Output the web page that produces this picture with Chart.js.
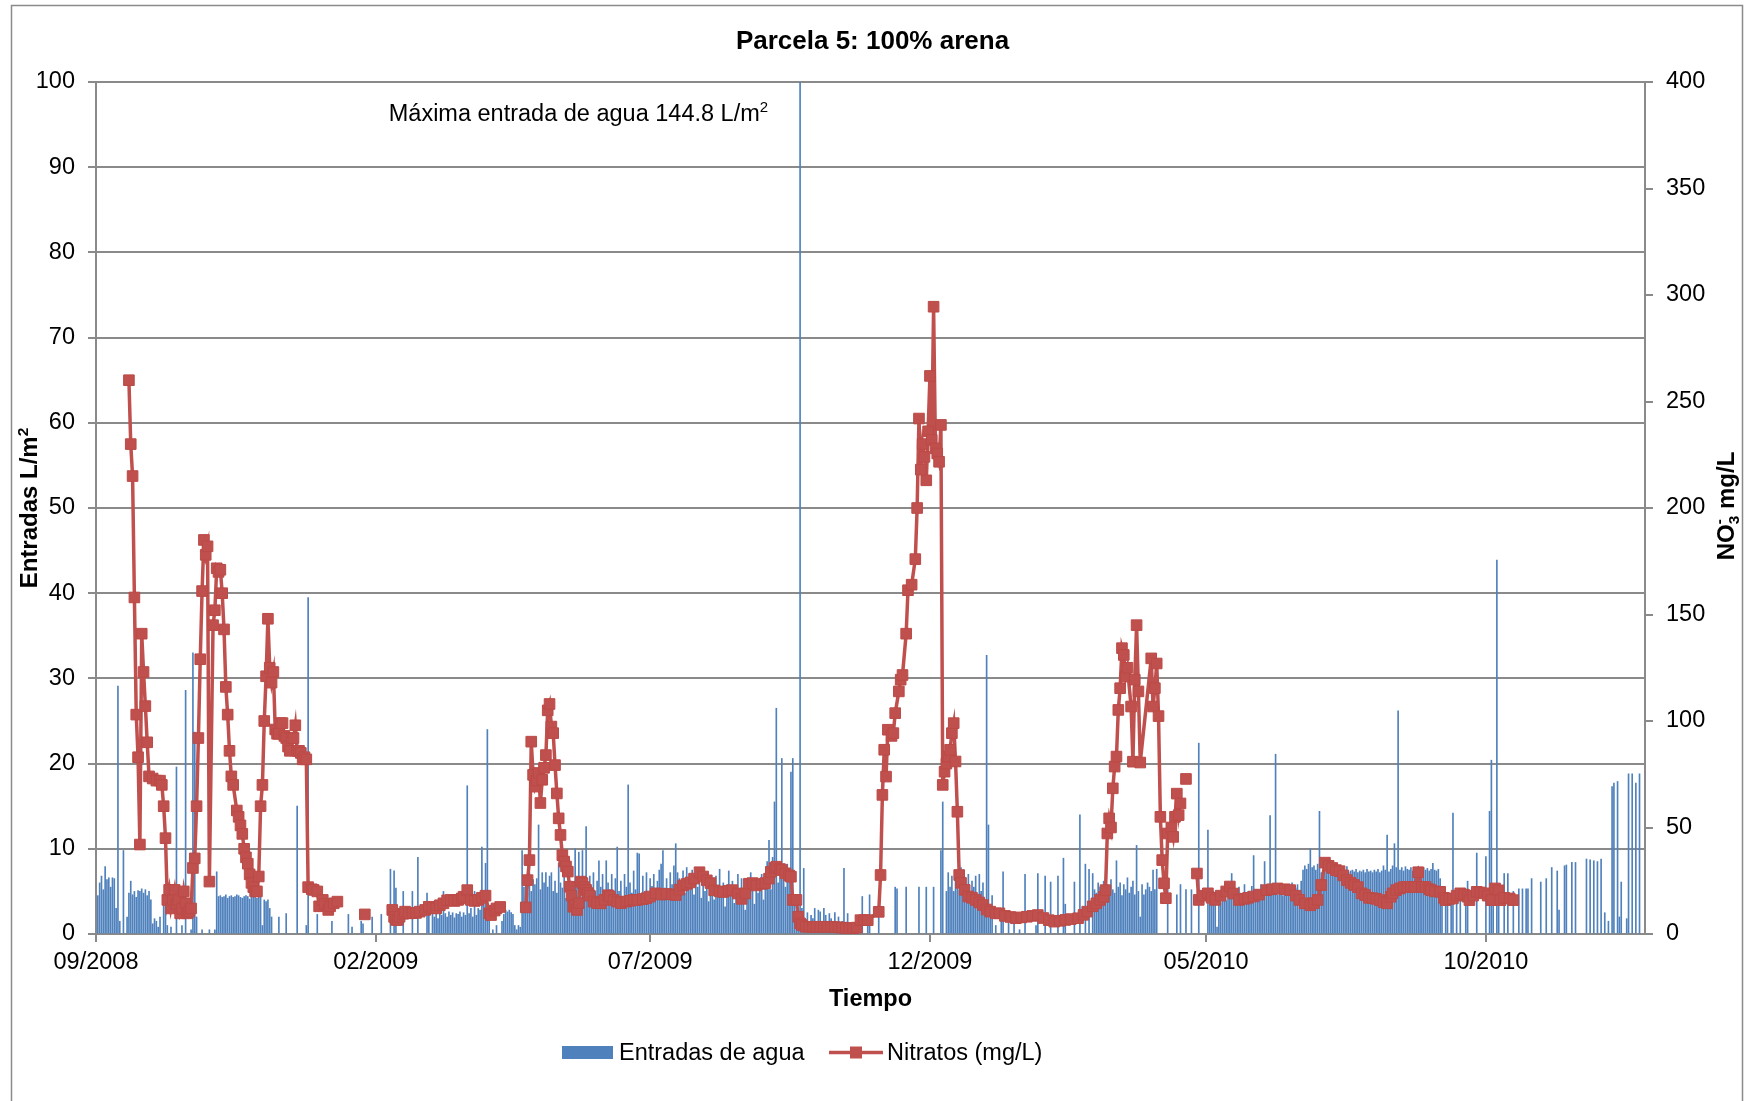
<!DOCTYPE html>
<html>
<head>
<meta charset="utf-8">
<title>Parcela 5: 100% arena</title>
<script src="https://cdn.jsdelivr.net/npm/chart.js@4.4.0/dist/chart.umd.min.js"></script>
<style>
  html, body { margin: 0; padding: 0; background: #fff; }
</style>
</head>
<body>
<canvas id="chart" width="1745" height="1101"></canvas>
<script>
// days are counted from 01/09/2008
const xTickDays = [0, 153, 303, 456, 607, 760];
const xTickLabels = ['09/2008', '02/2009', '07/2009', '12/2009', '05/2010', '10/2010'];

// daily water inputs (L/m2), one value per day from day 0
const barValues = [
  0, 4.5, 6.0, 6.8, 5.2, 7.9, 6.4, 6.6, 5.5, 6.6,
  6.5, 3.0, 29.1, 1.5, 0, 9.8, 0, 2.0, 4.8, 6.2,
  4.6, 5.0, 4.3, 5.1, 5.0, 5.3, 4.8, 5.2, 4.5, 5.0,
  4.0, 1.2, 1.8, 1.5, 0.8, 2.0, 0, 3.5, 4.2, 1.0,
  0, 0.8, 0, 0, 19.6, 0, 0, 1.0, 0, 28.6,
  0, 0, 0.5, 33.0, 23.7, 2.0, 0, 0, 0.5, 0,
  0, 0, 0.5, 0, 0, 0.5, 7.3, 4.4, 4.5, 4.3,
  4.4, 4.6, 4.2, 4.4, 4.5, 4.3, 4.4, 4.6, 4.5, 4.3,
  4.2, 4.4, 4.5, 4.4, 4.1, 4.5, 4.3, 4.4, 4.2, 4.3,
  4.5, 1.0, 4.0, 3.8, 4.0, 3.0, 2.0, 0, 0, 0,
  2.0, 0, 0, 0, 2.4, 0, 0, 0, 0, 0,
  15.0, 0, 0, 0, 0, 1.0, 39.5, 0, 0, 0,
  0, 2.3, 0, 0, 0, 0, 0, 0, 0, 1.5,
  0, 0, 0, 0, 0, 0, 0, 0, 2.3, 0,
  0.8, 0, 0, 0, 0, 1.5, 1.2, 0, 0, 0,
  0, 2.0, 0, 0, 0, 0, 2.3, 0, 0, 0,
  0, 7.6, 0, 7.4, 5.4, 0, 0, 0, 5.0, 0,
  0, 0, 0, 5.0, 0, 0, 9.0, 0, 0, 0,
  0, 4.8, 2.2, 0, 2.5, 2.0, 2.3, 1.8, 2.5, 2.2,
  5.0, 2.4, 2.0, 2.6, 2.2, 2.5, 1.9, 2.4, 2.3, 2.6,
  2.0, 2.5, 2.2, 17.4, 2.4, 3.0, 2.0, 5.0, 2.2, 3.0,
  2.8, 10.2, 4.0, 8.3, 24.0, 2.0, 0, 0.5, 0, 1.0,
  0, 0, 1.5, 2.3, 2.8, 2.6, 2.8, 2.5, 2.3, 1.0,
  0.5, 1.0, 0.8, 9.8, 5.5, 6.2, 4.8, 7.2, 5.0, 6.4,
  5.8, 6.5, 12.8, 5.2, 7.2, 6.0, 7.2, 5.5, 6.8, 7.2,
  5.0, 6.2, 4.8, 8.3, 6.0, 5.4, 6.8, 4.2, 5.8, 3.5,
  6.2, 4.0, 10.0, 6.5, 9.6, 5.5, 9.8, 6.2, 12.6, 5.0,
  6.8, 4.5, 7.2, 5.0, 6.2, 8.6, 5.5, 7.0, 4.8, 8.6,
  6.0, 5.2, 7.0, 4.5, 6.5, 10.2, 5.0, 6.2, 4.2, 7.0,
  5.5, 17.5, 6.0, 4.8, 7.4, 5.2, 9.5, 9.4, 4.5, 6.8,
  5.0, 7.2, 4.2, 6.5, 5.6, 7.0, 4.8, 6.2, 7.5, 8.2,
  9.8, 5.4, 6.5, 4.6, 7.2, 5.8, 8.0, 10.6, 7.2, 6.5,
  5.0, 7.4, 4.8, 7.8, 6.0, 5.2, 7.5, 4.6, 6.8, 5.5,
  7.2, 4.2, 6.4, 5.0, 7.0, 3.8, 6.2, 5.5, 4.0, 6.8,
  5.2, 7.6, 4.5, 6.0, 3.2, 5.8, 7.4, 4.8, 6.2, 3.6,
  5.5, 7.0, 4.2, 6.5, 5.0, 2.8, 6.0, 4.5, 7.2, 5.2,
  3.5, 6.2, 4.8, 5.5, 7.0, 4.0, 6.5, 8.5, 11.0, 5.2,
  9.0, 15.5, 26.5, 6.0, 8.0, 20.6, 7.0, 5.5, 8.2, 6.5,
  19.0, 20.6, 4.0, 1.5, 2.0, 144.8, 3.0, 7.7, 1.5, 2.5,
  1.0, 2.2, 1.8, 3.0, 1.2, 2.8, 2.6, 1.5, 3.0, 2.2,
  1.0, 2.4, 1.8, 0.8, 2.5, 1.2, 2.0, 0.5, 1.5, 7.7,
  1.0, 2.4, 0.6, 1.2, 0, 0.8, 1.0, 0, 0.5, 4.4,
  0, 0, 1.0, 4.6, 0, 0, 0, 0, 3.0, 0,
  0, 0, 0, 0, 0, 0, 0, 5.5, 5.3, 0,
  0, 0, 0, 5.5, 0, 0, 0, 0, 0, 0,
  5.5, 0, 0, 0, 5.5, 0, 0, 0, 5.5, 0,
  0, 0, 9.8, 15.5, 0, 5.0, 7.2, 5.5, 6.8, 5.0,
  7.5, 6.0, 5.2, 7.8, 5.5, 6.4, 5.0, 7.0, 4.5, 6.2,
  5.5, 6.8, 4.2, 7.0, 5.0, 6.0, 3.5, 32.7, 12.8, 2.0,
  4.5, 0, 1.0, 0, 0, 3.0, 7.3, 0, 0, 2.0,
  0, 0, 1.5, 0, 0, 0.5, 0, 0, 7.0, 0,
  0, 0, 0, 0, 1.0, 7.1, 0, 0, 0, 6.8,
  0, 0, 6.1, 0, 0, 0, 6.8, 0, 0, 8.9,
  3.5, 0, 0, 0, 0, 6.1, 0, 0, 14.0, 0,
  0, 8.2, 0, 7.6, 0, 7.1, 5.2, 4.8, 6.0, 5.5,
  4.6, 6.2, 5.0, 5.8, 4.5, 6.4, 5.2, 4.8, 8.6, 5.5,
  6.0, 4.5, 5.8, 5.2, 6.6, 4.8, 5.5, 6.2, 4.6, 10.4,
  5.0, 2.0, 5.8, 4.6, 5.2, 6.0, 5.5, 5.0, 7.5, 5.2,
  7.6, 0, 0, 0, 0, 0, 6.1, 0, 0, 0,
  0, 4.6, 0, 5.8, 0, 0, 5.2, 0, 0, 5.2,
  0, 0, 0, 22.4, 0, 0, 0, 0, 12.2, 4.0,
  3.8, 5.0, 4.2, 0.8, 4.8, 3.7, 5.2, 4.5, 3.9, 5.3,
  4.2, 7.1, 4.6, 5.0, 4.0, 5.5, 4.8, 4.4, 5.8, 4.2,
  5.0, 4.5, 5.6, 9.2, 4.8, 5.2, 4.2, 5.8, 4.6, 8.5,
  5.4, 4.8, 13.9, 5.0, 5.6, 21.1, 4.6, 5.8, 5.2, 4.5,
  5.8, 5.0, 4.6, 5.5, 6.0, 4.8, 5.4, 5.8, 5.0, 6.2,
  7.5, 8.0, 7.6, 8.2, 10.0, 7.8, 8.0, 7.5, 8.2, 14.4,
  7.2, 7.5, 7.3, 7.6, 7.2, 7.4, 7.3, 7.6, 7.2, 7.5,
  7.4, 7.2, 7.6, 7.3, 7.9, 7.2, 7.4, 7.5, 7.3, 7.6,
  7.2, 7.4, 7.3, 7.5, 7.2, 7.6, 7.3, 7.4, 7.2, 7.5,
  7.3, 7.6, 7.2, 7.4, 8.0, 7.5, 11.6, 7.3, 7.6, 8.0,
  10.6, 7.8, 26.2, 7.5, 7.8, 7.4, 7.9, 7.6, 7.5, 7.8,
  7.4, 7.7, 7.5, 7.9, 7.6, 7.4, 7.8, 7.5, 7.7, 7.4,
  7.6, 8.3, 7.5, 7.4, 7.6, 6.5, 4.5, 0, 4.2, 4.9,
  0, 4.5, 14.2, 0, 4.6, 0, 4.8, 0, 0, 4.5,
  6.2, 0, 0, 0, 0, 9.5, 0, 0, 0, 0,
  9.1, 0, 14.4, 20.4, 3.5, 0, 43.9, 4.4, 0, 0,
  7.1, 0, 7.1, 0, 0, 5.0, 0, 0, 5.3, 0,
  5.3, 0, 5.3, 5.3, 0, 6.5, 0, 0, 0, 0,
  6.1, 0, 0, 6.5, 0, 0, 7.8, 0, 0, 7.4,
  2.8, 0, 0, 8.0, 8.1, 0, 0, 8.4, 0, 8.4,
  0, 0, 0, 0, 0, 8.8, 0, 8.7, 0, 8.6,
  0, 8.5, 0, 8.8, 0, 2.5, 0, 1.5, 0, 17.3,
  17.7, 0, 17.9, 2.0, 6.1, 0, 0, 1.8, 18.8, 0,
  18.8, 0, 17.7, 0, 18.8, 0, 0
];

// nitrate samples (mg/L); null = no sampling, the line is broken there
const nitrateDays = [
  18, 19, 20, 21, 22, 23, 24, 25, 26, 27, 28, 29, 31, 33, 35, 36, 37, 38, 39, 40,
  41, 42, 43, 44, 45, 46, 47, 48, 49, 50, 51, 52, 53, 54, 55, 56, 57, 58, 59, 60,
  61, 62, 64, 65, 66, 67, 68, 69, 70, 71, 72, 73, 74, 75, 77, 78, 79, 80, 81, 82,
  83, 84, 85, 86, 87, 88, 89, 90, 91, 92, 93, 94, 95, 96, 97, 98, 99, 100, 101, 102,
  103, 104, 105, 106, 107, 108, 109, 110, 111, 112, 113, 114, 115, 116, 118, 119, 121, 122, 124, 125,
  127, 128, 130, 132, 140, 147, 155,
  162, 163, 164, 165, 166, 168, 169, 171, 173, 175, 177, 180, 182, 184, 186, 188, 190, 192, 194, 196,
  198, 200, 201, 203, 205, 207, 209, 211, 213, 215, 216, 218, 219, 221, 227,
  235, 236, 237, 238, 239, 240, 241, 242, 243, 244, 245, 246, 247, 248, 249, 250, 251, 252, 253, 254,
  255, 256, 257, 258, 259, 260, 261, 262, 263, 264, 265, 266, 267, 268, 269, 270, 272, 274, 276, 278,
  280, 281, 283, 285, 287, 290, 292, 294, 296, 299, 301, 303, 306, 309, 312, 315, 317, 319, 321, 323,
  325, 327, 330, 332, 334, 336, 338, 341, 343, 346, 348, 351, 353, 355, 357, 359, 361, 364, 366, 368,
  369, 371, 372, 374, 375, 377, 379, 380, 381, 383, 384, 385, 386, 388, 390, 392, 394, 396, 398, 400,
  402, 404, 406, 408, 410, 412, 414, 416, 418, 420, 422, 428, 429, 430, 431, 432, 433, 435, 436, 437,
  439, 440, 441, 443, 444, 446, 448, 449, 450, 451, 452, 453, 454, 455, 456, 457, 458, 459, 460, 461,
  462, 463, 464, 465, 466, 467, 468, 469, 470, 471, 472, 473, 475, 477, 479, 481, 483, 485, 487, 489,
  492, 494, 497, 500, 503, 506, 509, 512, 515, 518, 521, 524, 527, 530, 533, 537, 540, 542, 545, 547,
  549, 551, 552, 553, 554, 555, 556, 557, 558, 559, 560, 561, 562, 563, 564, 566, 567, 568, 569, 570,
  571, 577, 578, 579, 580, 581, 582, 583, 584, 585, 586, 588, 589, 590, 591, 592, 593, 595, 596, 599,
  602, 603, 605, 608, 610, 612, 615, 618, 620, 622, 625, 628, 630, 633, 636, 640, 643, 646, 650, 653,
  656, 658, 661, 664, 666, 668, 670, 672, 674, 676, 678, 680, 682, 684, 686, 688, 690, 692, 694, 696,
  698, 700, 702, 704, 706, 708, 709, 711, 713, 715, 717, 719, 721, 723, 725, 727, 729, 730, 732, 735,
  737, 738, 740, 742, 744, 746, 748, 750, 751, 753, 755, 757, 759, 761, 763, 765, 767, 768, 770, 773,
  775
];
const nitrateValues = [
  260, 230, 215, 158, 103, 83, 42, 141, 123, 107, 90, 74, 73, 72, 72, 70, 60, 45, 16, 20.7,
  12, 16, 20.7, 14, 16, 9.7, 12, 20, 14.4, 9.7, 10.5, 12, 31, 35.5, 60, 92, 129, 161, 185, 178,
  182, 24.6, 145, 152, 171.7, 170, 171, 160, 143, 116, 103, 86, 74, 70, 58, 55, 51, 47, 40, 36,
  33, 28, 24, 22, 20, 20, 27, 60, 70, 100, 121, 148, 125, 118, 123, 96, 94, 94, 99, 99,
  93, 92, 88, 86, 92, 92, 98, 86, 86, 85, 82, 83, 82, 22, 21, 20.7, 20, 13, 16, 14,
  11.3, 13, 14.4, 15.2, null, 9.2, null,
  11.3, 8, 6.6, 6.6, 8.1, 9.5, 10.5, 9.7, 9.8, 9.9, 10.5, 11.3, 12.8, 12.2, 12, 13.5, 14.4, 15.8, 16, 15.5,
  16, 16.7, 17.5, 20.6, 16, 15.5, 16, 17, 18, 9.7, 8.9, 11, 12, 12.7, null,
  12.5, 25.3, 34.7, 90.3, 74.7, 69.2, 72, 75.6, 61.5, 72.4, 78, 84, 105, 108, 97.4, 94.3, 79.3, 66, 54.3, 46.5,
  37, 34, 31.7, 29.3, 22.2, 18, 12.8, 13.7, 11.3, 14.5, 24.6, 23.9, 22, 20.7, 19.2, 18, 15.2, 14.5, 14.4, 16,
  18.2, 17.6, 16, 15.2, 14.5, 15.2, 15.6, 16, 16, 16.4, 16.8, 17.6, 19.1, 18.5, 18.8, 18.6, 18.3, 20.8, 22.8, 23.5,
  24.2, 26, 29, 27, 25.2, 23.9, 20.5, 20, 19.7, 20.3, 20.6, 19, 16.5, 19, 23.6, 23.9, 22.8, 23.5, 23.9, 26,
  29.2, 31, 31.6, 30.5, 30, 28.5, 27.5, 26.9, 16, 16, 8.1, 5, 4.2, 3.4, 3.4, 3.3, 3.4, 3.4, 3.3, 3.4,
  3.4, 3.2, 3.1, 3, 2.8, 2.6, 2.7, 3, 6.5, 6.5, 6.5, 10.4, 27.7, 65.3, 86.5, 73.9, 95.9, 93, 94.3, 103.7,
  113.9, 119.4, 121.6, 141, 161.4, 164, 176, 200, 242, 218, 230, 224, 213, 236, 262, 232, 294.5, 228, 225.6, 221.7,
  239, 70, 76.2, 80, 83.3, 86.5, 94.3, 99, 81, 57.4, 27.7, 24, 20.7, 17.6, 17, 16, 14.8, 13.6, 11.5, 10.5,
  9.7, 9.7, 8.5, 8, 7.4, 7.8, 8.1, 8.5, 8.9, 7.5, 6.5, 5.8, 6.2, 6.6, 7, 7.4, 9, 10.5, 13, 14.4,
  16, 17.4, 20.6, 47.2, 54.3, 50, 68.4, 78.6, 83.3, 105.2, 115.4, 134.2, 131, 120.9, 125, 106.8, 80.9, 119.4, 145, 113.9,
  80.5, 129.4, 106.8, 115.4, 127, 102.3, 55, 34.7, 23.8, 16.8, 47.2, 50, 45.6, 55, 65.9, 55.8, 61.3, null, 72.8, null,
  28.4, 16, 18, 19.1, 17, 16, 18, 20, 22.3, 19, 16, 16.5, 17, 17.6, 18.5, 20.6, 21, 21.4, 21, 20.6,
  18, 16, 14.4, 13.5, 14.5, 16, 23, 33.5, 32, 31, 30, 29.5, 27.5, 25.3, 24, 23, 22, 19.1, 18.3, 17,
  16.8, 16.5, 15.9, 15, 14.4, 17.5, 19.1, 20.6, 21.4, 22, 22.1, 22.1, 22.1, 29, 22.1, 22.1, 21, 20.6, 20, 19.8,
  17, 15.9, 16.5, 16.7, 18, 19.1, 18.5, 17.5, 15.9, 18, 19.8, 19.5, 19.1, 18, 15.9, 21.4, 20.5, 15.9, 17, 16.7,
  15.9
];

const FONT = "'Liberation Sans', Arial, Helvetica, sans-serif";
const GRID = '#8a8a8a';
const BLUE = '#4F81BD';
const RED = '#C0504D';

Chart.defaults.font.family = FONT;
Chart.defaults.font.size = 23.5;
Chart.defaults.color = '#000';

// draws a run of text pieces (for super/subscripts), y is the baseline
function drawParts(ctx, parts, x, y, weight, align) {
  let total = 0;
  parts.forEach(function(p) {
    ctx.font = weight + ' ' + p.size + 'px ' + FONT;
    p.w = ctx.measureText(p.text).width;
    if (!p.stack) total += p.w;
  });
  let cx = align === 'center' ? x - total / 2 : (align === 'right' ? x - total : x);
  let last = cx;
  parts.forEach(function(p) {
    ctx.font = weight + ' ' + p.size + 'px ' + FONT;
    if (p.stack) {
      ctx.fillText(p.text, last, y + (p.dy || 0));
    } else {
      ctx.fillText(p.text, cx, y + (p.dy || 0));
      last = cx;
      cx += p.w;
    }
  });
}

const extras = {
  id: 'extras',
  afterDraw(chart) {
    const ctx = chart.ctx;
    const area = chart.chartArea;
    const xs = chart.scales.x;
    ctx.save();
    ctx.fillStyle = '#000';
    ctx.textAlign = 'left';
    ctx.textBaseline = 'alphabetic';

    // outer frame
    ctx.strokeStyle = GRID;
    ctx.lineWidth = 1.5;
    ctx.strokeRect(11.5, 5.5, 1731, 1200);

    // note for the clipped bar
    drawParts(ctx, [
      { text: 'Máxima entrada de agua 144.8 L/m', size: 23.5 },
      { text: '2', size: 15, dy: -9 }
    ], xs.getPixelForValue(385) - 32, area.top + 39, 'normal', 'right');

    // left axis title
    ctx.save();
    ctx.translate(28, (area.top + area.bottom) / 2);
    ctx.rotate(-Math.PI / 2);
    drawParts(ctx, [
      { text: 'Entradas L/m', size: 24 },
      { text: '2', size: 15.5, dy: -9 }
    ], 0, 8.5, 'bold', 'center');
    ctx.restore();

    // right axis title
    ctx.save();
    ctx.translate(1725, (area.top + area.bottom) / 2 - 2);
    ctx.rotate(-Math.PI / 2);
    drawParts(ctx, [
      { text: 'NO', size: 24 },
      { text: '3', size: 15.5, dy: 5 },
      { text: '-', size: 15.5, dy: -10, stack: true },
      { text: ' mg/L', size: 24 }
    ], 0, 8.5, 'bold', 'center');
    ctx.restore();

    // x axis title
    drawParts(ctx, [{ text: 'Tiempo', size: 23.5 }], (area.left + area.right) / 2, 1006, 'bold', 'center');

    // legend
    ctx.fillStyle = BLUE;
    ctx.fillRect(562, 1046, 51, 13);
    ctx.fillStyle = '#000';
    drawParts(ctx, [{ text: 'Entradas de agua', size: 23.5 }], 619, 1059.5, 'normal', 'left');
    ctx.strokeStyle = RED;
    ctx.lineWidth = 3.5;
    ctx.beginPath();
    ctx.moveTo(829, 1052.5);
    ctx.lineTo(883, 1052.5);
    ctx.stroke();
    ctx.fillStyle = RED;
    ctx.fillRect(850, 1046.5, 12, 12);
    ctx.fillStyle = '#000';
    drawParts(ctx, [{ text: 'Nitratos (mg/L)', size: 23.5 }], 887, 1059.5, 'normal', 'left');

    ctx.restore();
  }
};

const barData = [];
barValues.forEach(function(v, i) {
  if (v > 0) barData.push({ x: i, y: v });
});
const lineData = nitrateDays.map(function(d, i) {
  return { x: d, y: nitrateValues[i] };
});

new Chart(document.getElementById('chart'), {
  type: 'bar',
  data: {
    datasets: [
      {
        type: 'line',
        label: 'Nitratos (mg/L)',
        data: lineData,
        yAxisID: 'y1',
        order: 0,
        borderColor: RED,
        borderWidth: 3.5,
        pointStyle: 'rect',
        pointRadius: 7.5,
        pointBorderWidth: 1,
        pointBackgroundColor: RED,
        pointBorderColor: '#BB4A47',
        spanGaps: false,
        tension: 0
      },
      {
        type: 'bar',
        label: 'Entradas de agua',
        data: barData,
        yAxisID: 'y',
        order: 1,
        backgroundColor: BLUE,
        barThickness: 1,
        borderWidth: 0
      }
    ]
  },
  options: {
    responsive: false,
    animation: false,
    layout: { padding: 0 },
    plugins: {
      legend: { display: false },
      tooltip: { enabled: false },
      title: {
        display: true,
        text: 'Parcela 5: 100% arena',
        color: '#000',
        font: { size: 26, weight: 'bold' },
        padding: { top: 26.4, bottom: 24.4 }
      }
    },
    scales: {
      x: {
        type: 'linear',
        min: 0,
        max: 847,
        offset: false,
        afterFit: function(scale) { scale.height = 167; },
        afterBuildTicks: function(scale) {
          scale.ticks = xTickDays.map(function(v) { return { value: v }; });
        },
        ticks: {
          autoSkip: false,
          maxRotation: 0,
          padding: 6,
          callback: function(value) {
            return xTickLabels[xTickDays.indexOf(value)];
          }
        },
        grid: { offset: false, drawOnChartArea: false, drawTicks: true, tickLength: 8, color: GRID, lineWidth: 2 },
        border: { display: true, color: GRID, width: 2 }
      },
      y: {
        position: 'left',
        min: 0,
        max: 100,
        afterFit: function(scale) { scale.width = 96; },
        ticks: { stepSize: 10, padding: 13 },
        grid: { color: GRID, lineWidth: 2, tickLength: 8 },
        border: { display: true, color: GRID, width: 2 }
      },
      y1: {
        position: 'right',
        min: 0,
        max: 400,
        afterFit: function(scale) { scale.width = 100; },
        ticks: { stepSize: 50, padding: 13 },
        grid: { drawOnChartArea: false, color: GRID, lineWidth: 2, tickLength: 8 },
        border: { display: true, color: GRID, width: 2 }
      }
    }
  },
  plugins: [extras]
});
</script>
</body>
</html>
